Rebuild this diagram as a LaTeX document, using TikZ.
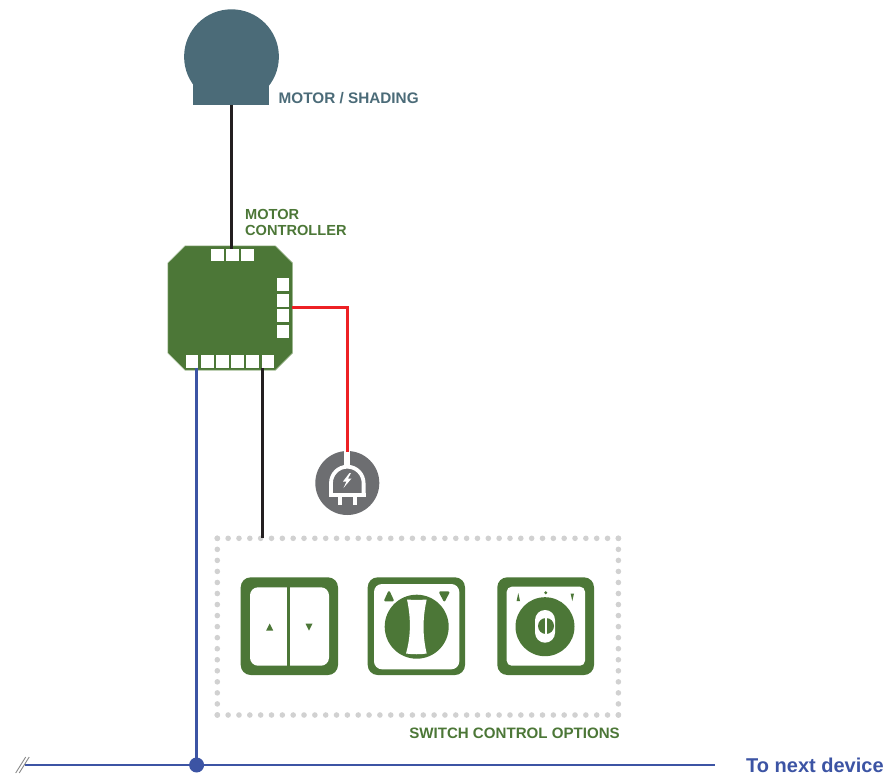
\documentclass[tikz,border=0pt]{standalone}
\usepackage{fontspec}
\setmainfont{Liberation Sans}
\definecolor{ctrlgreen}{HTML}{4C7737}
\definecolor{edgegreen}{HTML}{A9C09C}
\definecolor{motorblue}{HTML}{4B6B78}
\definecolor{busblue}{HTML}{3C54A4}
\definecolor{livered}{HTML}{ED2024}
\definecolor{plugray}{HTML}{6D6E71}
\definecolor{wireblack}{HTML}{231F20}
\definecolor{dotgray}{HTML}{D1D1D1}
\definecolor{hatchgray}{HTML}{8A8A8A}
\tikzset{
  wire/.style={line width=2.8pt},
  pad/.style={fill=white,draw=none,minimum width=12.4pt,minimum height=12.4pt,inner sep=0pt,outer sep=0pt},
  padv/.style={pad,minimum height=13pt},
  lbl/.style={inner sep=0pt,anchor=west,align=left},
  anchorbox/.style={inner sep=0pt,outer sep=0pt,draw=none,fill=none},
  tile/.style={fill=ctrlgreen,rounded corners=10pt},
  tilein/.style={fill=white,rounded corners=8pt},
  tri/.style={fill=ctrlgreen,draw=ctrlgreen,line width=2.2pt,line join=round},
  dotline/.style={dotgray,line width=5.6pt,line cap=round,dash pattern=on 0pt off #1}
}
\begin{document}
\begin{tikzpicture}[x=1pt,y=-1pt]
\useasboundingbox (0,0) rectangle (889,774);

% motor
\fill[motorblue] (231.5,56.7) circle[radius=47.4];
\fill[motorblue] (193.3,84) rectangle (269.3,105);
\node[anchorbox,minimum width=76pt,minimum height=1pt] (motor) at (231.5,104.5) {};
\node[lbl,text=motorblue,font=\fontsize{15.3}{16}\selectfont\bfseries] (motorlabel) at (278.5,98.5) {MOTOR / SHADING};

% controller
\coordinate (ctl) at (230.2,308);
\fill[ctrlgreen,draw=edgegreen,line width=0.6pt]
  (185,245.9) -- (275.4,245.9) -- (292.6,263) -- (292.6,353) -- (275.4,370.2)
  -- (185,370.2) -- (167.8,353) -- (167.8,263) -- cycle;
\node[anchorbox,minimum width=125pt,minimum height=124pt] (controller) at (ctl) {};
\foreach \i/\x in {1/217.3,2/232.4,3/247.4}
  \node[pad] (top\i) at (\x,255) {};
\foreach \i/\y in {1/284.5,2/300.2,3/315.8,4/331.5}
  \node[padv] (right\i) at (283,\y) {};
\foreach \i/\x in {1/192.2,2/207.3,3/222.4,4/237.5,5/252.6,6/267.7}
  \node[pad] (bot\i) at (\x,361.5) {};
\node[lbl,text=ctrlgreen,font=\fontsize{14.6}{15.8}\selectfont\bfseries] (ctllabel) at (245,222.5) {MOTOR\\CONTROLLER};

% plug
\fill[plugray] (347.3,483) circle[radius=32];
\node[anchorbox,minimum size=64pt,circle] (plug) at (347.3,483) {};
\begin{scope}[draw=white,line width=3.8pt]
  \draw[line width=6pt] (plug.north) -- (347.3,468);
  \draw (331,495) -- (331,483) arc[start angle=180,end angle=360,radius=16.3] -- (363.6,495);
  \draw (329,495) -- (365.6,495);
  \draw (339.6,495) -- (339.6,505);
  \draw (355,495) -- (355,505);
\end{scope}
\fill[white] (349.5,473) -- (343,481.5) -- (346.5,481.5) -- (343.5,488) -- (351.5,478.5) -- (348,478.5) -- (351,473) -- cycle;

% dotted box
\node[anchorbox,minimum width=401pt,minimum height=177pt] (options) at (417.5,626.5) {};
\draw[dotline=10.84pt] (217.3,538.3) -- (618.4,538.3);
\draw[dotline=10.84pt] (217.3,715) -- (618.4,715);
\draw[dotline=11.04pt] (217.3,538.3) -- (217.3,715);
\draw[dotline=11.04pt] (618.4,538.3) -- (618.4,715);
\node[lbl,text=ctrlgreen,anchor=east,font=\fontsize{15.1}{16}\selectfont\bfseries] (optlabel) at (620,733.5) {SWITCH CONTROL OPTIONS};

% switch 1
\fill[tile] (240.7,577.3) rectangle (338,675);
\fill[tilein] (250,587.3) rectangle (329,665.7);
\fill[ctrlgreen] (286.7,587.3) rectangle (290.3,665.7);
\fill[ctrlgreen] (269.7,623.5) -- (273.2,630.5) -- (266.2,630.5) -- cycle;
\fill[ctrlgreen] (309,630.5) -- (312.5,623.5) -- (305.5,623.5) -- cycle;

% switch 2
\fill[tile] (367.7,577.3) rectangle (465,675);
\fill[tilein] (374,584) rectangle (459.3,669.3);
\fill[ctrlgreen] (416.7,626.7) circle[radius=32];
\fill[white] (407,599.5) .. controls (412,600) and (421,600) .. (426.7,599.5)
  .. controls (422.5,618) and (422.5,636) .. (426.7,653.5)
  .. controls (421,654.5) and (412,654.5) .. (406,653.5)
  .. controls (411,636) and (411,618) .. (407,599.5) -- cycle;
\draw[tri] (389,592.3) -- (392.7,600.3) -- (385.3,600.3) -- cycle;
\draw[tri] (440.3,592.5) -- (448.3,592.5) -- (444.3,600.3) -- cycle;

% switch 3
\fill[tile] (497.3,577.3) rectangle (594,675);
\fill[tilein,rounded corners=5pt] (506.7,586.7) rectangle (585,665.7);
\fill[ctrlgreen] (545,626.7) circle[radius=29.5];
\fill[white,rounded corners=9.9pt] (535.1,610) rectangle (555,642.7);
\fill[ctrlgreen] (546,626) circle[radius=8];
\fill[white] (545.2,617.5) rectangle (546.9,634.5);
\fill[ctrlgreen] (545.7,592.7) circle[radius=1.6];
\fill[ctrlgreen] (518.3,593) -- (520,601) -- (516.6,601) -- cycle;
\fill[ctrlgreen] (572.3,601) -- (574,593.5) -- (570.6,593.5) -- cycle;

% connection points
\coordinate (busstart) at (25,765);
\coordinate (busend) at (715,765);
\coordinate (redcorner) at (347.3,307.5);
\coordinate (hatchA1) at (15.7,773);
\coordinate (hatchA2) at (25.7,757);
\coordinate (hatchB1) at (19.2,773);
\coordinate (hatchB2) at (29.2,757);
\node[circle,fill=busblue,minimum size=15pt,inner sep=0pt,outer sep=0pt] (junction) at (196.6,765) {};

% wires
\draw[wire,wireblack] (motor.center) -- (motor.center |- top2.north);
\draw[wire,livered,line width=2.4pt,line cap=rect] (controller.east |- redcorner) -- (redcorner) -- (redcorner |- plug.north);
\draw[wire,wireblack] (262.6,368) coordinate (ctlb) -- (ctlb |- options.north);
\draw[wire,busblue] (junction.center |- bot1.south) -- (junction.center);
\draw[wire,busblue] (busstart) -- (busend);
\draw[hatchgray,line width=0.9pt] (hatchA1) -- (hatchA2);
\draw[hatchgray,line width=0.9pt] (hatchB1) -- (hatchB2);
\node[lbl,text=busblue,font=\fontsize{20}{21}\selectfont\bfseries] (nextlabel) at (746,765) {To next device};
\end{tikzpicture}
\end{document}
